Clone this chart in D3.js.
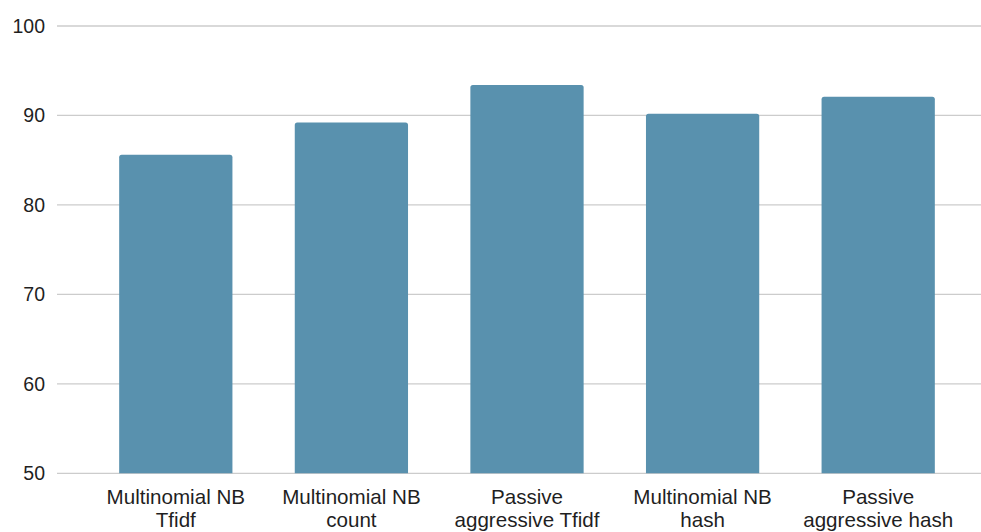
<!DOCTYPE html>
<html>
<head>
<meta charset="utf-8">
<script src="https://cdn.jsdelivr.net/npm/d3@7/dist/d3.min.js"></script>
<style>
  html, body { margin: 0; padding: 0; background: #fff; }
  svg { display: block; }
  text { font-family: "Liberation Sans", Arial, sans-serif; fill: #1f1f1f; }
</style>
</head>
<body>
<svg id="chart" width="981" height="532"></svg>
<script>
// Accuracy (%) of each classifier / vectorizer combination
const categories = [
  ["Multinomial NB", "Tfidf"],
  ["Multinomial NB", "count"],
  ["Passive", "aggressive Tfidf"],
  ["Multinomial NB", "hash"],
  ["Passive", "aggressive hash"]
];
const accuracy = [85.6, 89.2, 93.4, 90.2, 92.1];
const yTicks = [50, 60, 70, 80, 90, 100];

const svg = d3.select("#chart");
const gridLeft = 57, gridRight = 981;

const y = d3.scaleLinear().domain([50, 100]).range([473.3, 26]);
const x = d3.scaleBand()
  .domain(d3.range(categories.length))
  .range([88, 966])
  .paddingInner(0.355)
  .paddingOuter(0.1775);

// horizontal gridlines
svg.append("g")
  .selectAll("line")
  .data(yTicks)
  .join("line")
  .attr("x1", gridLeft)
  .attr("x2", gridRight)
  .attr("y1", d => y(d))
  .attr("y2", d => y(d))
  .attr("stroke", "#cccccc")
  .attr("stroke-width", 1.3);

// y tick labels
svg.append("g")
  .selectAll("text")
  .data(yTicks)
  .join("text")
  .attr("x", 45)
  .attr("y", d => y(d))
  .attr("dy", "0.35em")
  .attr("text-anchor", "end")
  .attr("font-size", 19.5)
  .text(d => d);

// bars with slightly rounded top corners
const r = 2.5;
svg.append("g")
  .selectAll("path")
  .data(accuracy)
  .join("path")
  .attr("fill", "#5991ae")
  .attr("d", (d, i) => {
    const x0 = x(i), x1 = x(i) + x.bandwidth();
    const yt = y(d), yb = y(50);
    return `M${x0},${yb}V${yt + r}Q${x0},${yt} ${x0 + r},${yt}H${x1 - r}Q${x1},${yt} ${x1},${yt + r}V${yb}Z`;
  });

// category labels on two lines
const lab = svg.append("g")
  .selectAll("text")
  .data(categories)
  .join("text")
  .attr("text-anchor", "middle")
  .attr("font-size", 20.6)
  .attr("transform", (d, i) => `translate(${x(i) + x.bandwidth() / 2},0)`);
lab.selectAll("tspan")
  .data(d => d)
  .join("tspan")
  .attr("x", 0)
  .attr("y", (d, j) => 504 + j * 22.5)
  .text(d => d);
</script>
</body>
</html>
